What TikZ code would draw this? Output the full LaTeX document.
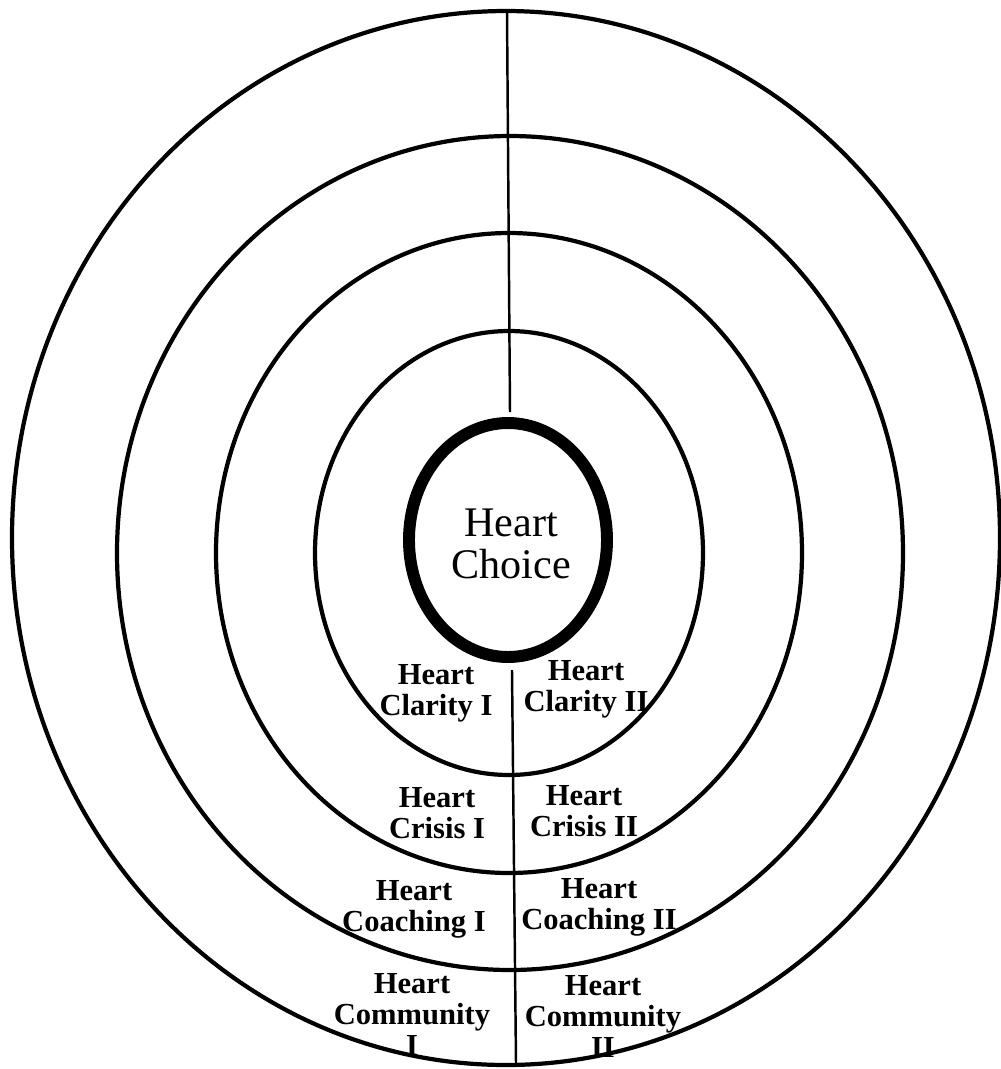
\documentclass[tikz,border=0pt]{standalone}
\usepackage{fontspec}
\setmainfont{Liberation Serif}
\usepackage{tikz}
\usetikzlibrary{positioning}
\newcommand{\heartring}[4]{%
  \draw[line width=#4] (#1) ellipse [x radius=#2, y radius=#3];}
\tikzset{zone/.style={font=\bfseries\fontsize{8.7}{8.8}\selectfont,
                      align=center, inner sep=0pt, anchor=north}}

\begin{document}
\begin{tikzpicture}[x=0.1mm,y=-0.1mm]
      \useasboundingbox (0,0) rectangle (1001,1069);
      \heartring{506,538}{49.4mm}{52.7mm}{1.2pt}
      \heartring{510,553}{39.3mm}{41.7mm}{1.2pt}
      \heartring{509,553}{29.3mm}{32.0mm}{1.2pt}
      \heartring{509,553}{19.4mm}{22.2mm}{1.2pt}
      \heartring{508,540}{9.9mm}{11.7mm}{3.4pt}
      \coordinate (axetop) at (507,11);
      \coordinate (axemid) at (510,412);
      \coordinate (axelow) at (512,670);
      \coordinate (axebot) at (516,1063);
      \draw[line width=0.7pt] (axetop)--(axemid) (axelow)--(axebot);
      \node[inner sep=0pt,anchor=north,align=center,font=\fontsize{12}{12}\selectfont]
           (choice) at (511,508) {Heart\\Choice};
      \node[zone] (clarA) at (436,664) {Heart\\Clarity I};
      \node[zone] (clarB) at (586,660) {Heart\\Clarity II};
      \node[zone] (crisA) at (437,787) {Heart\\Crisis I};
      \node[zone] (crisB) at (584,785) {Heart\\Crisis II};
      \node[zone] (coacA) at (414,880) {Heart\\Coaching I};
      \node[zone] (coacB) at (599,878) {Heart\\Coaching II};
      \node[zone] (commA) at (412,973) {Heart\\Community\\I};
      \node[zone] (commB) at (603,975) {Heart\\Community\\II};
    \end{tikzpicture}
\end{document}
